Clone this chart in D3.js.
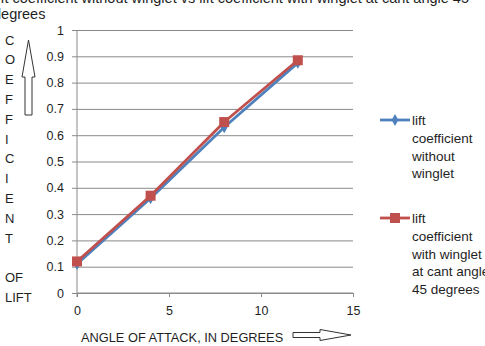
<!DOCTYPE html>
<html>
<head>
<meta charset="utf-8">
<script src="https://cdn.jsdelivr.net/npm/d3@7"></script>
<style>
  html, body { margin: 0; padding: 0; background: #fff; }
  svg { display: block; font-family: 'Liberation Sans', Arial, sans-serif; }
</style>
</head>
<body>
<div id="chart"></div>
<script>
// Chart data.
const angles = [0, 4, 8, 12];
const liftWithout = [0.11, 0.36, 0.63, 0.875];
const liftWithWinglet = [0.12, 0.37, 0.65, 0.885];
const xTicks = [0, 5, 10, 15];
const yTicks = [0, 0.1, 0.2, 0.3, 0.4, 0.5, 0.6, 0.7, 0.8, 0.9, 1];
const yTitleLines = ['C', 'O', 'E', 'F', 'F', 'I', 'C', 'I', 'E', 'N', 'T', '', 'OF', 'LIFT'];
const legendWithout = ['lift', 'coefficient', 'without', 'winglet'];
const legendWith = ['lift', 'coefficient', 'with winglet', 'at cant angle', '45 degrees'];

const width = 485;
const height = 346;
const BLUE = '#4F81BD';
const RED = '#C0504D';
const GRID = '#8a8a8a';
const TEXT = '#1f1f1f';
const FONT = "'Liberation Sans', Arial, sans-serif";

const svg = d3.select('#chart')
  .append('svg')
  .attr('width', width)
  .attr('height', height);

const x = d3.scaleLinear().domain([0, 15]).range([77, 353]);
const y = d3.scaleLinear().domain([0, 1]).range([293, 30]);

// Title, cut off by the top and left edges like in the source image.
const title = svg.append('g')
  .attr('fill', TEXT)
  .style('font-size', '14.5px');
title.append('text')
  .attr('x', -6)
  .attr('y', 3)
  .text('lift coefficient without winglet vs lift coefficient with winglet at cant angle 45');
title.append('text')
  .attr('x', -7)
  .attr('y', 18.5)
  .text('degrees');

// Gridlines.
svg.append('g')
  .attr('transform', `translate(${x(0)},0)`)
  .call(d3.axisLeft(y).tickValues(yTicks).tickSize(-(x(15) - x(0))).tickFormat(''))
  .call(g => g.select('.domain').remove())
  .call(g => g.selectAll('line').attr('stroke', GRID));

// Y axis.
svg.append('g')
  .attr('transform', `translate(${x(0)},0)`)
  .call(d3.axisLeft(y).tickValues(yTicks).tickSize(5).tickPadding(8).tickFormat(d3.format('~g')))
  .call(g => g.select('.domain').attr('stroke', GRID).attr('d', `M0,${y(1)}V${y(0) + 4}`))
  .call(g => g.selectAll('line').attr('stroke', GRID))
  .call(g => g.selectAll('text')
    .attr('fill', TEXT)
    .style('font-size', '12.5px')
    .style('font-family', FONT));

// X axis.
svg.append('g')
  .attr('transform', `translate(0,${y(0)})`)
  .call(d3.axisBottom(x).tickValues(xTicks).tickSize(4).tickPadding(9))
  .call(g => g.select('.domain').attr('stroke', GRID).attr('d', `M${x(0)},0H${x(15)}`))
  .call(g => g.selectAll('line').attr('stroke', GRID))
  .call(g => g.selectAll('text')
    .attr('fill', TEXT)
    .style('font-size', '12.5px')
    .style('font-family', FONT));

// Series.
const line = d3.line()
  .x((d, i) => x(angles[i]))
  .y(d => y(d));

svg.append('path')
  .datum(liftWithout)
  .attr('fill', 'none')
  .attr('stroke', BLUE)
  .attr('stroke-width', 2.8)
  .attr('stroke-linejoin', 'round')
  .attr('d', line);

svg.append('g')
  .selectAll('path')
  .data(liftWithout)
  .join('path')
  .attr('d', d3.symbol(d3.symbolDiamond, 40))
  .attr('transform', (d, i) => `translate(${x(angles[i])},${y(d)})`)
  .attr('fill', BLUE);

svg.append('path')
  .datum(liftWithWinglet)
  .attr('fill', 'none')
  .attr('stroke', RED)
  .attr('stroke-width', 2.8)
  .attr('stroke-linejoin', 'round')
  .attr('d', line);

svg.append('g')
  .selectAll('rect')
  .data(liftWithWinglet)
  .join('rect')
  .attr('x', (d, i) => x(angles[i]) - 5)
  .attr('y', d => y(d) - 5)
  .attr('width', 10)
  .attr('height', 10)
  .attr('fill', RED);

// Y axis title, one letter per line, with an up arrow.
svg.append('g')
  .attr('fill', TEXT)
  .style('font-size', '13px')
  .selectAll('text')
  .data(yTitleLines)
  .join('text')
  .attr('x', 5)
  .attr('y', (d, i) => 44.5 + i * 19.8)
  .text(d => d);

svg.append('path')
  .attr('d', 'M28.5,40 L35,77 L32,77 L32,115 L25,115 L25,77 L22,77 Z')
  .attr('fill', 'none')
  .attr('stroke', '#333')
  .attr('stroke-width', 1);

// X axis title with a right arrow.
svg.append('text')
  .attr('x', 81)
  .attr('y', 341.5)
  .attr('fill', TEXT)
  .style('font-size', '12.8px')
  .text('ANGLE OF ATTACK, IN DEGREES');

svg.append('path')
  .attr('d', 'M293,332.5 L320,332.5 L320,329.5 L351,335 L320,340.5 L320,337.5 L293,337.5 Z')
  .attr('fill', 'none')
  .attr('stroke', '#333')
  .attr('stroke-width', 1);

// Legend.
const legend = [
  { lines: legendWithout, color: BLUE, marker: 'diamond', y: 120 },
  { lines: legendWith, color: RED, marker: 'square', y: 218 }
];

legend.forEach(item => {
  const g = svg.append('g');
  g.append('line')
    .attr('x1', 380).attr('x2', 410)
    .attr('y1', item.y).attr('y2', item.y)
    .attr('stroke', item.color)
    .attr('stroke-width', 2.8);
  if (item.marker === 'diamond') {
    g.append('path')
      .attr('d', d3.symbol(d3.symbolDiamond, 40))
      .attr('transform', `translate(395,${item.y})`)
      .attr('fill', item.color);
  } else {
    g.append('rect')
      .attr('x', 390).attr('y', item.y - 5)
      .attr('width', 10).attr('height', 10)
      .attr('fill', item.color);
  }
  g.selectAll('text')
    .data(item.lines)
    .join('text')
    .attr('x', 412)
    .attr('y', (d, i) => item.y + 5 + i * 17.8)
    .attr('fill', TEXT)
    .style('font-size', '13.5px')
    .text(d => d);
});
</script>
</body>
</html>
